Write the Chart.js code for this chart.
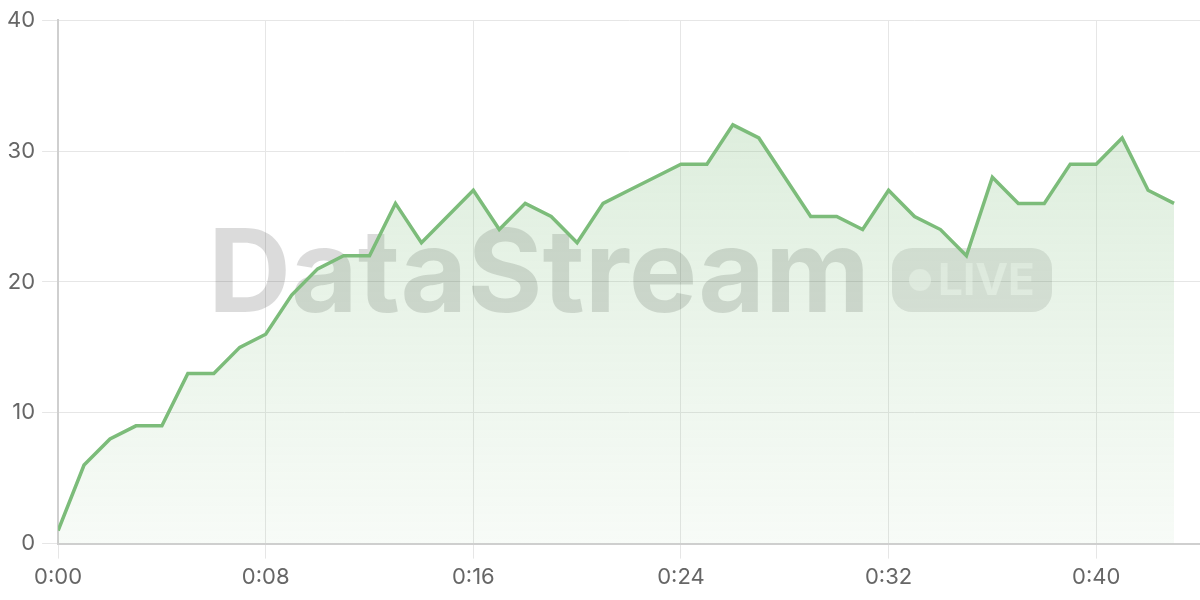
<!DOCTYPE html>
<html>
<head>
<meta charset="utf-8">
<script src="https://cdn.jsdelivr.net/npm/chart.js@4/dist/chart.umd.min.js"></script>
<style>
  html, body { margin: 0; padding: 0; background: #fff; }
  #wrap { width: 1200px; height: 600px; position: relative; }
</style>
</head>
<body>
<div id="wrap"><canvas id="chart"></canvas></div>
<script>
// minutes since start and the value at each minute
const minutes = [0, 1, 2, 3, 4, 5, 6, 7, 8, 9, 10, 11, 12, 13, 14, 15, 16, 17, 18, 19, 20, 21,
  22, 23, 24, 25, 26, 27, 28, 29, 30, 31, 32, 33, 34, 35, 36, 37, 38, 39, 40, 41, 42, 43];
const values = [1, 6, 8, 9, 9, 13, 13, 15, 16, 19, 21, 22, 22, 26, 23, 25, 27, 24, 26, 25, 23, 26,
  27, 28, 29, 29, 32, 31, 28, 25, 25, 24, 27, 25, 24, 22, 28, 26, 26, 29, 29, 31, 27, 26];
const xTicks = [0, 8, 16, 24, 32, 40];
const yTicks = [0, 10, 20, 30, 40];
const watermarkText = "DataStream";
const badgeText = "LIVE";

const FONT = "Inter, 'DejaVu Sans', sans-serif";

function fmtTime(v) {
  return Math.floor(v / 60) + ":" + String(v % 60).padStart(2, "0");
}

// watermark drawn under the line
const watermark = {
  id: "watermark",
  beforeDatasetsDraw(chart) {
    const ctx = chart.ctx;
    ctx.save();
    ctx.font = "bold 115px " + FONT;
    ctx.textBaseline = "alphabetic";
    ctx.fillStyle = "rgba(0,0,0,0.14)";
    ctx.fillText(watermarkText, 208, 312);
    // badge
    const bx = 892, by = 248, bw = 160, bh = 64, r = 20;
    ctx.beginPath();
    ctx.roundRect(bx, by, bw, bh, r);
    ctx.fillStyle = "rgba(0,0,0,0.10)";
    ctx.fill();
    ctx.fillStyle = "rgba(255,255,255,0.55)";
    ctx.beginPath();
    ctx.arc(bx + 28, by + 32, 11, 0, Math.PI * 2);
    ctx.fill();
    ctx.font = "bold 44px " + FONT;
    ctx.textBaseline = "middle";
    ctx.fillText(badgeText, bx + 46, by + 34);
    ctx.restore();
  }
};

const ctx = document.getElementById("chart");
new Chart(ctx, {
  type: "line",
  data: {
    datasets: [{
      data: minutes.map((m, i) => ({ x: m, y: values[i] })),
      borderColor: "rgb(124,188,122)",
      borderWidth: 3.5,
      pointRadius: 0,
      tension: 0,
      fill: "origin",
      backgroundColor: (c) => {
        const area = c.chart.chartArea;
        if (!area) return "rgba(124,188,122,0.2)";
        const g = c.chart.ctx.createLinearGradient(0, area.top, 0, area.bottom);
        g.addColorStop(0, "rgba(124,188,122,0.30)");
        g.addColorStop(1, "rgba(124,188,122,0.06)");
        return g;
      }
    }]
  },
  options: {
    responsive: true,
    maintainAspectRatio: false,
    animation: false,
    layout: { padding: { top: 12, right: 0, left: 0, bottom: 3 } },
    plugins: { legend: { display: false }, tooltip: { enabled: false } },
    scales: {
      x: {
        type: "linear",
        min: 0,
        max: 44,
        afterBuildTicks: (axis) => { axis.ticks = xTicks.map(v => ({ value: v })); },
        ticks: {
          callback: (v) => fmtTime(v),
          color: "#666",
          font: { family: FONT, size: 22 },
          padding: 6,
          maxRotation: 0
        },
        grid: { color: "#e6e6e6", tickLength: 15 },
        border: { color: "#cfcfcf", width: 2 }
      },
      y: {
        min: 0,
        max: 40,
        afterBuildTicks: (axis) => { axis.ticks = yTicks.map(v => ({ value: v })); },
        ticks: {
          color: "#666",
          font: { family: FONT, size: 22 },
          padding: 7
        },
        grid: { color: "#e6e6e6", tickLength: 16 },
        border: { color: "#cfcfcf", width: 2 }
      }
    }
  },
  plugins: [watermark]
});
</script>
</body>
</html>
